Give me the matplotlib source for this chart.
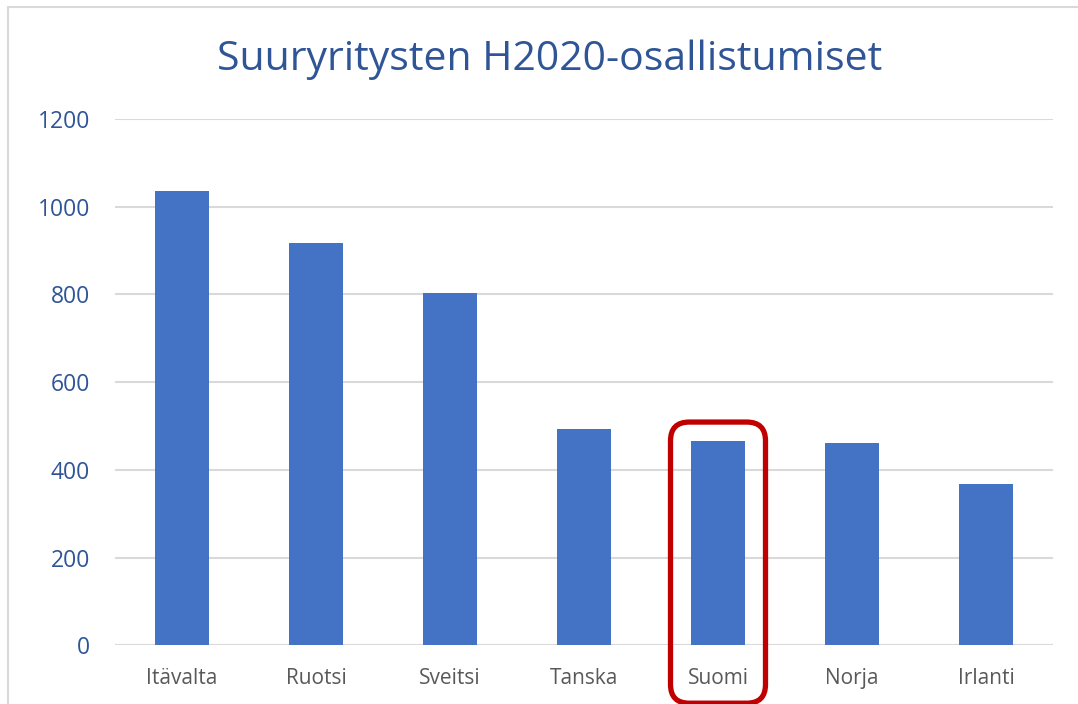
import matplotlib.pyplot as plt
from matplotlib.patches import FancyBboxPatch, Rectangle

countries = ["Itävalta", "Ruotsi", "Sveitsi", "Tanska", "Suomi", "Norja", "Irlanti"]
participations = [1036, 917, 804, 493, 465, 462, 368]
y_ticks = [0, 200, 400, 600, 800, 1000, 1200]
highlight = "Suomi"

plt.rcParams['font.family'] = ['Open Sans', 'DejaVu Sans']

fig = plt.figure(figsize=(10.78, 7.04), dpi=100)
ax = fig.add_axes([115 / 1078, 1 - 645.3 / 704, (1053 - 115) / 1078, (645.3 - 119) / 704])

x = range(len(countries))
ax.bar(x, participations, width=0.4, color="#4472C4", zorder=3)

ax.set_xlim(-0.5, len(countries) - 0.5)
ax.set_ylim(0, 1200)
ax.set_yticks(y_ticks)
ax.set_xticks(list(x))
ax.set_xticklabels(countries)
ax.yaxis.grid(True, color="#D9D9D9", linewidth=1.5, zorder=0)
ax.tick_params(axis="y", length=0, pad=18, labelsize=16.5, labelcolor="#2F5597")
ax.tick_params(axis="x", length=0, pad=16.5, labelsize=15, labelcolor="#595959")
for s in ax.spines.values():
    s.set_visible(False)

# red rounded highlight box around Suomi
i = countries.index(highlight)
px_per_x = 134.0
px_per_y = 526.3 / 1200
half_w = 47.5 / px_per_x
y_top = 509
y_bot = -132
box = FancyBboxPatch((i - half_w, y_bot), 2 * half_w, y_top - y_bot,
                     boxstyle="round,pad=0,rounding_size=0.14",
                     mutation_aspect=px_per_x / px_per_y,
                     transform=ax.transData, fill=False, edgecolor="#C00000",
                     linewidth=3.8, clip_on=False, zorder=5)
ax.add_patch(box)

# chart frame
fig.patches.append(Rectangle((8 / 1078, -0.05), 1.05, 1 - 7 / 704 + 0.05,
                             transform=fig.transFigure, fill=False,
                             edgecolor="#D9D9D9", linewidth=1.5))

fig.text(550 / 1078, 1 - 60 / 704, "Suuryritysten H2020-osallistumiset",
         ha="center", va="center", fontsize=29.5, color="#2F5597")

fig.savefig("out.png", dpi=100)
